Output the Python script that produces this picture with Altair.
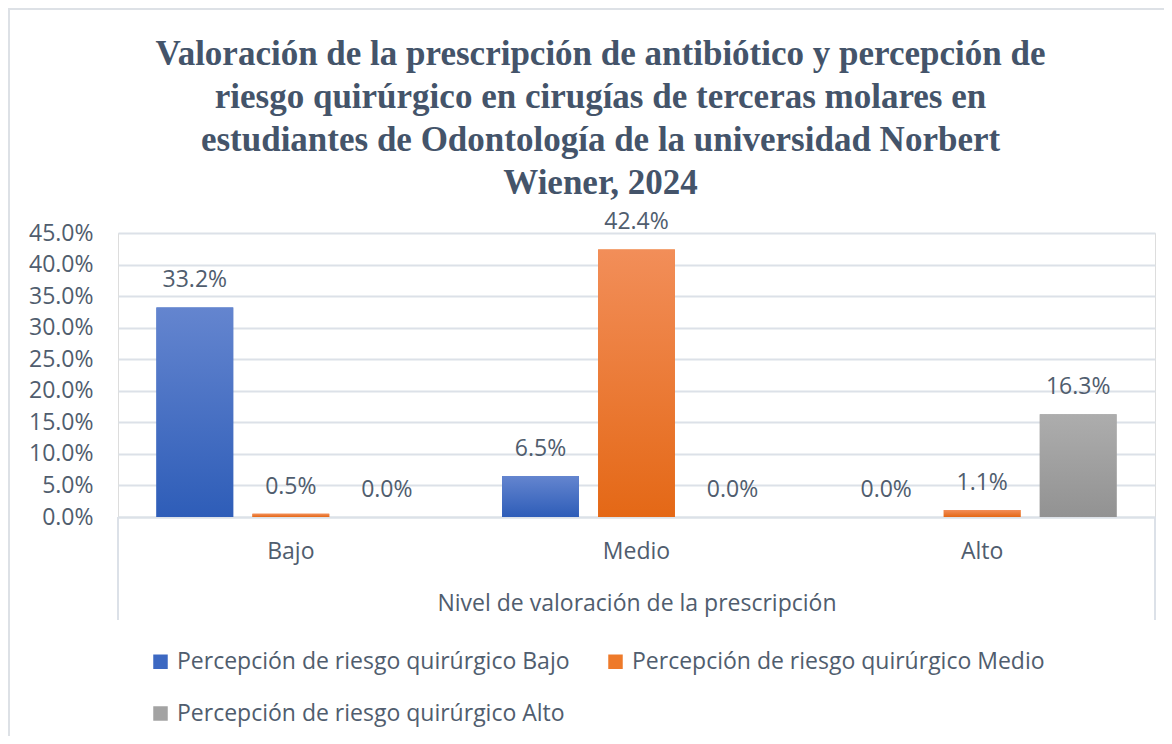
import altair as alt
import pandas as pd

categorias = ["Bajo", "Medio", "Alto"]
series = [
    "Percepción de riesgo quirúrgico  Bajo",
    "Percepción de riesgo quirúrgico  Medio",
    "Percepción de riesgo quirúrgico  Alto",
]
valores_bajo = [33.2, 6.5, 0.0]
valores_medio = [0.5, 42.4, 1.1]
valores_alto = [0.0, 0.0, 16.3]
y_ticks = [0, 5, 10, 15, 20, 25, 30, 35, 40, 45]
titulo = [
    "Valoración de la prescripción de antibiótico y percepción de",
    "riesgo quirúrgico en cirugías de terceras molares en",
    "estudiantes de Odontología de la universidad Norbert",
    "Wiener, 2024",
]
eje_x_titulo = "Nivel de valoración de la prescripción"

colores_leyenda = ["#3C68C2", "#EE7A2A", "#A3A3A3"]
gradientes = [
    ("#6485CF", "#2E5DB8"),
    ("#F28E59", "#E46816"),
    ("#ADADAD", "#929292"),
]

rows = []
for s, vals in zip(series, [valores_bajo, valores_medio, valores_alto]):
    for c, v in zip(categorias, vals):
        rows.append({"nivel": c, "serie": s, "valor": v, "etiqueta": f"{v:.1f}%"})
df = pd.DataFrame(rows)

TXT = "#505D6E"
GRID = "#DCE1E8"
FONT = "Open Sans"
W, H = 1037, 284

x_enc = alt.X(
    "nivel:N",
    sort=categorias,
    scale=alt.Scale(paddingInner=0, paddingOuter=0),
    axis=alt.Axis(
        title=eje_x_titulo,
        labelAngle=0,
        labelFont=FONT,
        labelFontSize=23,
        labelColor=TXT,
        labelPadding=23,
        titleFont=FONT,
        titleFontSize=23,
        titleFontWeight="normal",
        titleColor=TXT,
        titlePadding=29,
        ticks=False,
        domainColor=GRID,
        domainWidth=2,
    ),
)
xoff_enc = alt.XOffset(
    "serie:N", scale=alt.Scale(domain=series, paddingInner=0.2, paddingOuter=0.4)
)
y_enc = alt.Y(
    "valor:Q",
    scale=alt.Scale(domain=[0, 45], nice=False),
    axis=alt.Axis(
        title=None,
        values=y_ticks,
        labelExpr="format(datum.value, '.1f') + '%'",
        labelFont=FONT,
        labelFontSize=23,
        labelColor=TXT,
        labelPadding=25,
        ticks=False,
        domain=False,
        grid=True,
        gridColor=GRID,
        gridWidth=2,
    ),
)

base = alt.Chart(df)

bars = base.mark_bar().encode(
    x=x_enc,
    xOffset=xoff_enc,
    y=y_enc,
    color=alt.Color(
        "serie:N",
        scale=alt.Scale(domain=series, range=colores_leyenda),
        legend=alt.Legend(
            title=None,
            orient="none",
            legendX=31,
            legendY=417,
            direction="horizontal",
            columns=2,
            columnPadding=28,
            rowPadding=28,
            symbolType="square",
            symbolSize=210,
            symbolStrokeWidth=0,
            symbolOffset=0,
            labelFont=FONT,
            labelFontSize=23,
            labelColor=TXT,
            labelOffset=5,
            labelLimit=600,
        ),
    ),
)

grad_layers = []
for s, (top, bottom) in zip(series, gradientes):
    grad = alt.LinearGradient(
        gradient="linear",
        stops=[
            alt.GradientStop(color=top, offset=0),
            alt.GradientStop(color=bottom, offset=1),
        ],
        x1=0, x2=0, y1=0, y2=1,
    )
    grad_layers.append(
        base.transform_filter(alt.datum.serie == s)
        .mark_bar(fill=grad)
        .encode(x=x_enc, xOffset=xoff_enc, y=y_enc)
    )

labels = base.mark_text(
    dy=-27, baseline="middle", font=FONT, fontSize=23, color=TXT
).encode(x=x_enc, xOffset=xoff_enc, y=y_enc, text="etiqueta:N")

deco = alt.Chart(pd.DataFrame({"k": [0]}))
rule_left = deco.mark_rule(color=GRID, strokeWidth=2).encode(
    x=alt.value(0), y=alt.value(H), y2=alt.value(H + 103)
)
rule_right = deco.mark_rule(color=GRID, strokeWidth=2).encode(
    x=alt.value(W), y=alt.value(H), y2=alt.value(H + 103)
)
border = deco.mark_rect(fillOpacity=0, stroke="#DDE1E6", strokeWidth=2).encode(
    x=alt.value(-109), x2=alt.value(1100), y=alt.value(-224), y2=alt.value(700)
)

chart = (
    alt.layer(border, bars, *grad_layers, labels, rule_left, rule_right)
    .properties(
        width=W,
        height=H,
        autosize=alt.AutoSizeParams(type="none"),
        padding={"left": 110, "top": 225, "right": 9, "bottom": 219},
        title=alt.TitleParams(
            text=titulo,
            font="Liberation Serif",
            fontSize=35,
            fontWeight="bold",
            color="#44546A",
            lineHeight=43,
            anchor="middle",
            frame="group",
            dx=-36,
            offset=-193,
        ),
    )
    .configure_view(stroke=None)
    .configure(background="white")
)

chart.save("out.html", embed_options={"renderer": "svg", "actions": False})
